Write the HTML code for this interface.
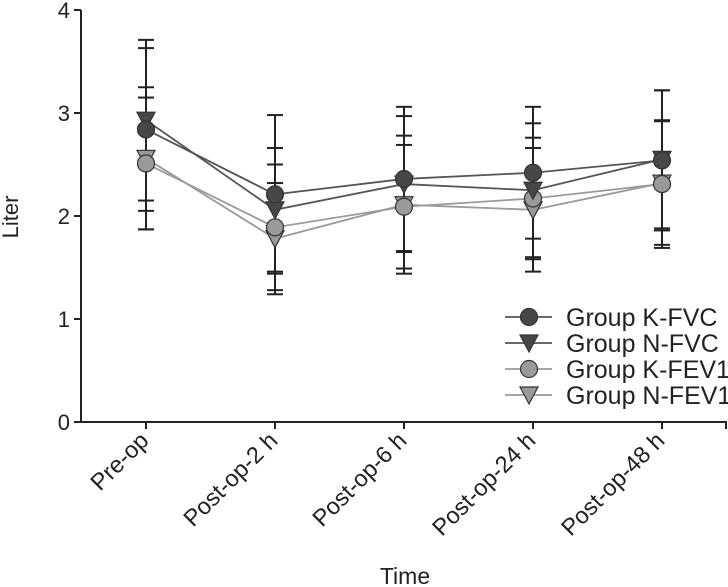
<!DOCTYPE html>
<html><head><meta charset="utf-8"><style>
body{margin:0;background:#fff}
svg{display:block;font-family:"Liberation Sans",sans-serif}
</style></head><body>
<svg id="chart" width="728" height="587" viewBox="0 0 728 587"></svg>
<script>
const categories=["Pre-op","Post-op-2 h","Post-op-6 h","Post-op-24 h","Post-op-48 h"];
const yTicks=[0,1,2,3,4];
const seriesNames=["Group K-FVC","Group N-FVC","Group K-FEV1","Group N-FEV1"];
const kFvc=[2.84,2.21,2.36,2.42,2.54];
const nFvc=[2.93,2.06,2.31,2.25,2.55];
const kFev1=[2.51,1.89,2.09,2.17,2.31];
const nFev1=[2.56,1.78,2.11,2.06,2.32];
const kFvcSd=[0.79,0.77,0.70,0.64,0.68];
const nFvcSd=[0.78,0.60,0.66,0.65,0.67];
const kFev1Sd=[0.64,0.61,0.60,0.59,0.62];
const nFev1Sd=[0.69,0.54,0.67,0.60,0.60];

const svg=document.getElementById('chart');
const NS='http://www.w3.org/2000/svg';
const x0=81,y0=422,yTop=10;
const xPos=i=>146+i*129;
const yPos=v=>y0-(v/4)*(y0-yTop);
function mk(t,a,p){const e=document.createElementNS(NS,t);for(const k in a)e.setAttribute(k,a[k]);(p||svg).appendChild(e);return e;}

let ax=mk('line',{x1:x0,y1:yTop,x2:x0,y2:y0,stroke:'#222','stroke-width':2});


let axx=mk('line',{x1:x0-1,y1:y0,x2:727,y2:y0,stroke:'#222','stroke-width':2});


mk('line',{x1:726,y1:y0,x2:726,y2:y0+7,stroke:'#222','stroke-width':2});
yTicks.forEach(v=>{
  const y=yPos(v);
  mk('line',{x1:x0-7,y1:y,x2:x0,y2:y,stroke:'#222','stroke-width':2});
  const t=mk('text',{x:x0-11,y:y+8,'text-anchor':'end','font-size':22,fill:'#222'});
  t.textContent=v;
  
  
});
categories.forEach((c,i)=>{
  const x=xPos(i);
  mk('line',{x1:x,y1:y0,x2:x,y2:y0+7,stroke:'#222','stroke-width':2});
  const t=mk('text',{x:x+4,y:y0+20,'text-anchor':'end','font-size':23.5,fill:'#222',transform:`rotate(-45 ${x+4} ${y0+20})`});
  t.textContent=c;
  
  
});
let yl=mk('text',{x:18,y:217,'text-anchor':'middle','font-size':22,fill:'#222',transform:'rotate(-90 18 217)'});
yl.textContent='Liter';


let xl=mk('text',{x:405,y:584,'text-anchor':'middle','font-size':23,fill:'#222'});
xl.textContent='Time';



const series=[
 {v:kFvc,sd:kFvcSd,fill:'#474747',line:'#555',shape:'c'},
 {v:nFvc,sd:nFvcSd,fill:'#474747',line:'#555',shape:'t'},
 {v:kFev1,sd:kFev1Sd,fill:'#9a9a9a',line:'#9a9a9a',shape:'c'},
 {v:nFev1,sd:nFev1Sd,fill:'#9a9a9a',line:'#9a9a9a',shape:'t'}];
function marker(shape,x,y,fill,p){
  if(shape==='c') return mk('circle',{cx:x,cy:y,r:8.5,fill:fill,stroke:'#333','stroke-width':1.2},p);
  return mk('path',{d:`M${x-9},${y-8} L${x+9},${y-8} L${x},${y+9} Z`,fill:fill,stroke:'#333','stroke-width':1.2},p);
}
series.forEach((s,si)=>{
  s.v.forEach((v,i)=>{
    const x=xPos(i),yu=yPos(v+s.sd[i]),yd=yPos(v-s.sd[i]);
    const g=mk('g',{stroke:'#222','stroke-width':2});
    
    
    mk('line',{x1:x,y1:yu,x2:x,y2:yd},g);
    mk('line',{x1:x-8,y1:yu,x2:x+8,y2:yu},g);
    mk('line',{x1:x-8,y1:yd,x2:x+8,y2:yd},g);
  });
});
[3,2,1,0].forEach(si=>{
  const s=series[si];
  const pl=mk('polyline',{points:s.v.map((v,i)=>xPos(i)+','+yPos(v)).join(' '),fill:'none',stroke:s.line,'stroke-width':1.8});
  
  
  s.v.forEach((v,i)=>{
    const m=marker(s.shape,xPos(i),yPos(v),s.fill);
    
    
  });
});
const lg=mk('g',{});


seriesNames.forEach((n,i)=>{
  const y=317+i*26, s=series[i];
  const e=mk('g',{},lg);
  
  
  mk('line',{x1:505,y1:y,x2:552,y2:y,stroke:s.line,'stroke-width':1.8},e);
  marker(s.shape,529,y,s.fill,e);
  const t=mk('text',{x:566,y:y+9,'font-size':25,fill:'#222'},e);
  t.textContent=n;
});
</script>
</body></html>
